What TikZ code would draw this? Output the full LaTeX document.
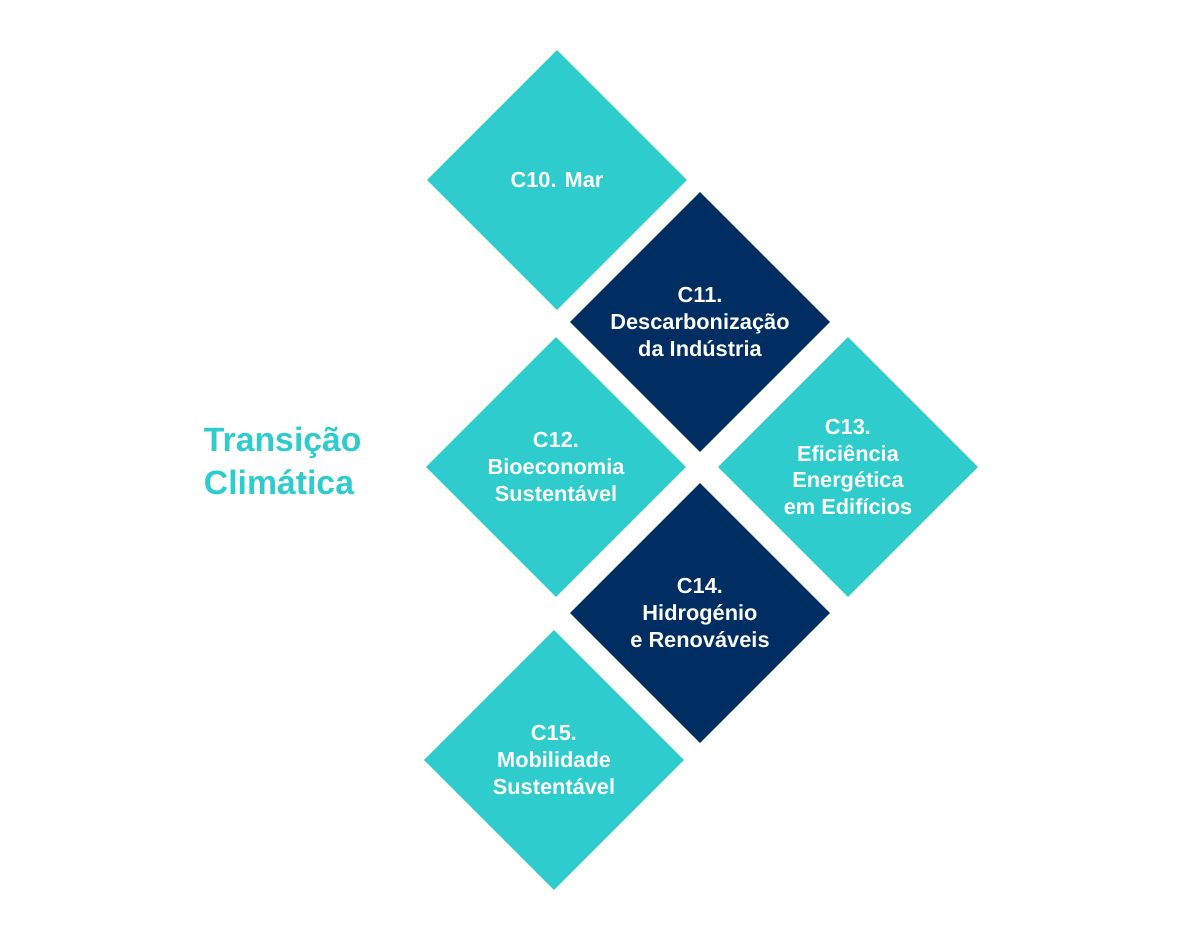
\documentclass[tikz,border=0pt]{standalone}
\usepackage{fontspec}
\setmainfont{Liberation Sans}
\usetikzlibrary{shapes.geometric}
\definecolor{teal}{HTML}{2ECCCD}
\definecolor{navy}{HTML}{002D62}
\tikzset{
  tile/.style={diamond, aspect=1, inner sep=0pt, minimum width=6.5cm, minimum height=6.5cm,
    fill=teal, text=white, align=center, font=\fontsize{15.5}{19}\selectfont\bfseries},
  dark/.style={tile, fill=navy}
}
\begin{document}
\begin{tikzpicture}[x=0.025cm, y=-0.025cm]
            \useasboundingbox (0, 0) rectangle (1200, 947);
            \node[tile] (c10) at (557, 180) {C10. Mar};
            \node[dark] (c11) at (700, 322) {C11.\\Descarbonização\\da Indústria};
            \node[tile] (c12) at (556, 467) {C12.\\Bioeconomia\\Sustentável};
            \node[tile] (c13) at (848, 467) {C13.\\Eficiência\\Energética\\em Edifícios};
            \node[dark] (c14) at (700, 613) {C14.\\Hidrogénio\\e Renováveis};
            \node[tile] (c15) at (554, 760) {C15.\\Mobilidade\\Sustentável};
            \node[text=teal, align=left, anchor=west, font=\fontsize{24}{31}\selectfont\bfseries] (title) at (199, 461) {Transição\\Climática};
        \end{tikzpicture}
\end{document}
